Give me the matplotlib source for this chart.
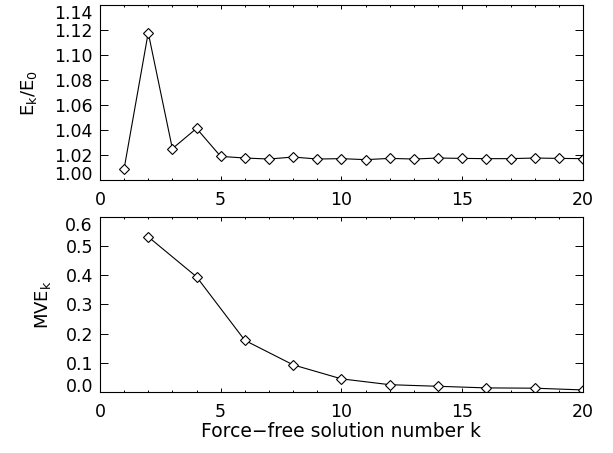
import numpy as np
import matplotlib
matplotlib.use('Agg')
import matplotlib.pyplot as plt
from matplotlib.ticker import MultipleLocator

#%% DATOS
k_top = list(range(1, 21))
ek_e0 = [1.0088, 1.1179, 1.0251, 1.0413, 1.0189, 1.0176, 1.0168, 1.0184, 1.0168, 1.0171,
         1.0163, 1.0173, 1.0168, 1.0176, 1.0173, 1.0171, 1.0171, 1.0176, 1.0173, 1.0171]

k_bot = [2, 4, 6, 8, 10, 12, 14, 16, 18, 20]
mve_k = [0.532, 0.395, 0.177, 0.093, 0.045, 0.025, 0.0195, 0.014, 0.013, 0.007]

top_yticks = [1.00, 1.02, 1.04, 1.06, 1.08, 1.10, 1.12, 1.14]
bot_yticks = [0.0, 0.1, 0.2, 0.3, 0.4, 0.5, 0.6]
xticks = [0, 5, 10, 15, 20]

plt.rcParams['font.family'] = 'DejaVu Sans'
plt.rcParams['font.size'] = 12

fig = plt.figure(figsize=(6.13, 4.53), dpi=100)
ax1 = fig.add_axes([0.163, 0.6026, 0.788, 0.3863])
ax2 = fig.add_axes([0.163, 0.1347, 0.788, 0.3863])


def estilo(ax, yticks, fmt):
    ax.set_xlim(0, 20)
    ax.set_ylim(yticks[0], yticks[-1])
    ax.set_xticks(xticks)
    ax.xaxis.set_minor_locator(MultipleLocator(1))
    ax.set_yticks(yticks)
    ax.set_yticklabels([fmt % v for v in yticks])
    ax.tick_params(axis='x', which='major', direction='in', length=2.6, width=0.7,
                   top=True, pad=8, labelsize=12.5)
    ax.tick_params(axis='x', which='minor', direction='in', length=1.4, width=0.7, top=True)
    ax.tick_params(axis='y', which='major', direction='in', length=6, width=0.7,
                   right=True, pad=5, labelsize=12.5)
    for s in ax.spines.values():
        s.set_linewidth(0.8)


#%% PANEL SUPERIOR
ax1.plot(k_top, ek_e0, color='black', lw=0.8, marker='D', ms=5,
         mfc='white', mec='black', mew=0.8)
estilo(ax1, top_yticks, '%.2f')
ax1.set_ylabel(r'$\mathregular{E_k/E_0}$', fontsize=13, labelpad=11)

#%% PANEL INFERIOR
ax2.plot(k_bot, mve_k, color='black', lw=0.8, marker='D', ms=5,
         mfc='white', mec='black', mew=0.8)
estilo(ax2, bot_yticks, '%.1f')
ax2.set_ylabel(r'$\mathregular{MVE_k}$', fontsize=13, labelpad=9)
ax2.set_xlabel('Force\u2212free solution number k', fontsize=13.5, labelpad=0.5)

# etiquetas de los extremos hacia adentro, como en IDL
fig.canvas.draw()
for ax in (ax1, ax2):
    ticks = ax.yaxis.get_major_ticks()
    ticks[0].label1.set_va('baseline')
    ticks[-1].label1.set_va('top')

fig.savefig('out.png', dpi=100)
